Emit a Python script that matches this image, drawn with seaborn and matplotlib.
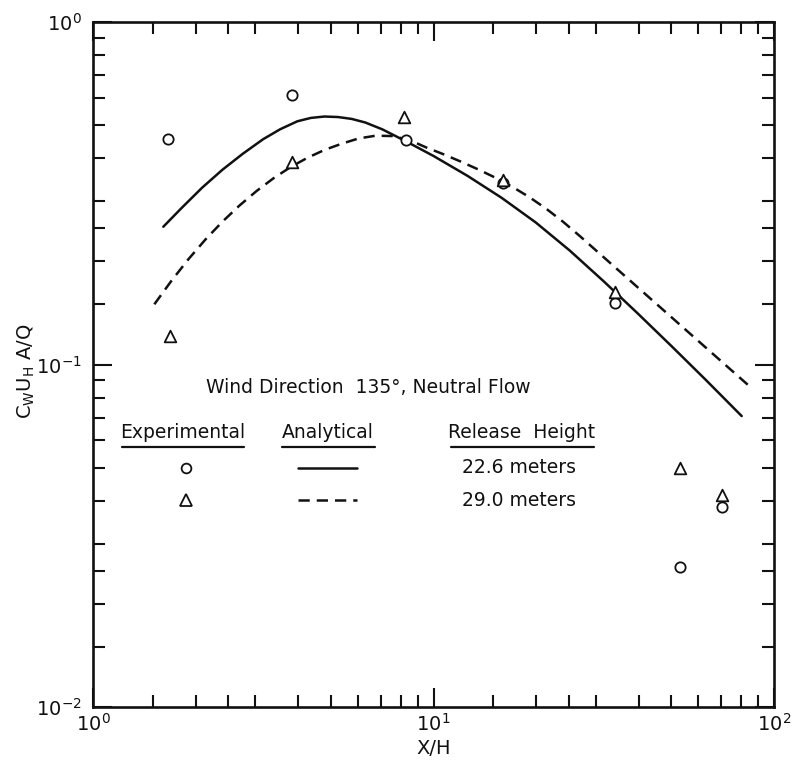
import numpy as np
import pandas as pd
import matplotlib
matplotlib.use("Agg")
import matplotlib.pyplot as plt
import matplotlib.ticker as mticker
import seaborn as sns

# ---- data ----
circ_x = [1.66, 3.84, 8.3, 16.0, 34.1, 52.9, 70.2]
circ_y = [0.455, 0.612, 0.452, 0.338, 0.151, 0.0256, 0.0384]
tri_x = [1.68, 3.84, 8.19, 16.0, 34.1, 52.9, 70.2]
tri_y = [0.121, 0.390, 0.528, 0.346, 0.163, 0.0497, 0.0416]

solid_x = [1.609, 1.820, 2.089, 2.399, 2.754, 3.162, 3.548, 3.981, 4.365,
           4.786, 5.248, 5.754, 6.310, 7.079, 8.342, 10.0, 12.59, 15.85,
           19.95, 25.12, 31.62, 39.81, 50.12, 63.10, 80.38]
solid_y = [0.2525, 0.2863, 0.3279, 0.3703, 0.4124, 0.4550, 0.4864, 0.5129,
           0.5248, 0.5297, 0.5278, 0.5212, 0.5087, 0.4858, 0.4472, 0.4063,
           0.3554, 0.3067, 0.2600, 0.2152, 0.1749, 0.1409, 0.1129, 0.0901,
           0.0707]
dash_x = [1.514, 1.698, 1.905, 2.138, 2.399, 2.692, 3.020, 3.388, 3.802,
          4.266, 4.786, 5.370, 6.026, 6.761, 7.586, 8.511, 9.550, 10.72,
          12.02, 13.49, 15.14, 16.98, 19.05, 21.38, 23.99, 26.92, 30.20,
          39.81, 56.23, 83.95]
dash_y = [0.1499, 0.1753, 0.2028, 0.2316, 0.2612, 0.2911, 0.3208, 0.3497,
          0.3769, 0.4015, 0.4232, 0.4411, 0.4571, 0.4656, 0.4645, 0.4519,
          0.4297, 0.4107, 0.3913, 0.3717, 0.3517, 0.3309, 0.3088, 0.2855,
          0.2613, 0.2370, 0.2141, 0.1679, 0.1239, 0.0871]

x_ticks = [1, 10, 100]
y_ticks = [0.01, 0.1, 1]
title_text = "Wind Direction  135\u00b0, Neutral Flow"
headers = ["Experimental", "Analytical", "Release  Height"]
rows = ["22.6 meters", "29.0 meters"]

# ---- style ----
sns.set_style("ticks")
plt.rcParams["font.family"] = ["DejaVu Sans"]
plt.rcParams["mathtext.fontset"] = "dejavusans"

fig = plt.figure(figsize=(7.97, 7.70), dpi=100)
ax = fig.add_axes([93 / 797, 63 / 770, 681 / 797, 685 / 770])

ink = "#111111"

df_solid = pd.DataFrame({"x": solid_x, "y": solid_y})
df_dash = pd.DataFrame({"x": dash_x, "y": dash_y})
sns.lineplot(data=df_solid, x="x", y="y", ax=ax, color=ink, lw=1.8,
             sort=False, estimator=None)
sns.lineplot(data=df_dash, x="x", y="y", ax=ax, color=ink, lw=1.8,
             sort=False, estimator=None, linestyle=(0, (4.5, 2.8)))

df_c = pd.DataFrame({"x": circ_x, "y": circ_y})
df_t = pd.DataFrame({"x": tri_x, "y": tri_y})
sns.scatterplot(data=df_c, x="x", y="y", ax=ax, marker="o", s=55,
                facecolor="white", edgecolor=ink, linewidth=1.3, zorder=5)
sns.scatterplot(data=df_t, x="x", y="y", ax=ax, marker="^", s=70,
                facecolor="white", edgecolor=ink, linewidth=1.3, zorder=5)

ax.set_xscale("log")
ax.set_yscale("log")
ax.set_xlim(1, 100)
ax.set_ylim(0.01, 1)

subs = [1.5, 2, 2.5, 3, 4, 5, 6, 7, 8, 9]
for axis in (ax.xaxis, ax.yaxis):
    axis.set_minor_locator(mticker.LogLocator(base=10, subs=subs))
    axis.set_minor_formatter(mticker.NullFormatter())
ax.set_xticks(x_ticks)
ax.set_yticks(y_ticks)

ax.tick_params(which="both", direction="in", top=True, right=True,
               color=ink, width=1.5, labelsize=14, labelcolor=ink)
ax.tick_params(which="major", length=14)
ax.tick_params(which="minor", length=8.5)
ax.tick_params(axis="y", which="major", pad=8)
ax.tick_params(axis="x", which="major", pad=4)
for s in ax.spines.values():
    s.set_linewidth(1.9)
    s.set_color(ink)

ax.set_xlabel("X/H", fontsize=14, color=ink)
ax.set_ylabel(r"$\mathregular{C_W U_H\ A/Q}$", fontsize=14, color=ink)
ax.xaxis.set_label_coords(0.5, -0.047)
ax.yaxis.set_label_coords(-0.082, 0.49)

# ---- key drawn inside the axes ----
tr = ax.transAxes
fs = 13.5
ax.text(0.404, 0.466, title_text, transform=tr, ha="center", va="center",
        fontsize=fs, color=ink)
hx = [0.132, 0.345, 0.630]
spans = [(0.043, 0.222), (0.278, 0.414), (0.526, 0.736)]
for h, x0, (a, b) in zip(headers, hx, spans):
    ax.text(x0, 0.401, h, transform=tr, ha="center", va="center",
            fontsize=fs, color=ink)
    ax.plot([a, b], [0.379, 0.379], transform=tr, color=ink, lw=1.6,
            clip_on=False)
ry = [0.349, 0.302]
ax.plot([0.136], [ry[0]], transform=tr, marker="o", ms=7, mfc="white",
        mec=ink, mew=1.3, ls="none")
ax.plot([0.136], [ry[1]], transform=tr, marker="^", ms=8, mfc="white",
        mec=ink, mew=1.3, ls="none")
ax.plot([0.301, 0.388], [ry[0], ry[0]], transform=tr, color=ink, lw=1.8)
ax.plot([0.301, 0.388], [ry[1], ry[1]], transform=tr, color=ink, lw=1.8,
        linestyle=(0, (4.5, 2.8)))
for r, y in zip(rows, ry):
    ax.text(0.625, y, r, transform=tr, ha="center", va="center",
            fontsize=fs, color=ink)

fig.savefig("out.png", dpi=100, facecolor="white")
